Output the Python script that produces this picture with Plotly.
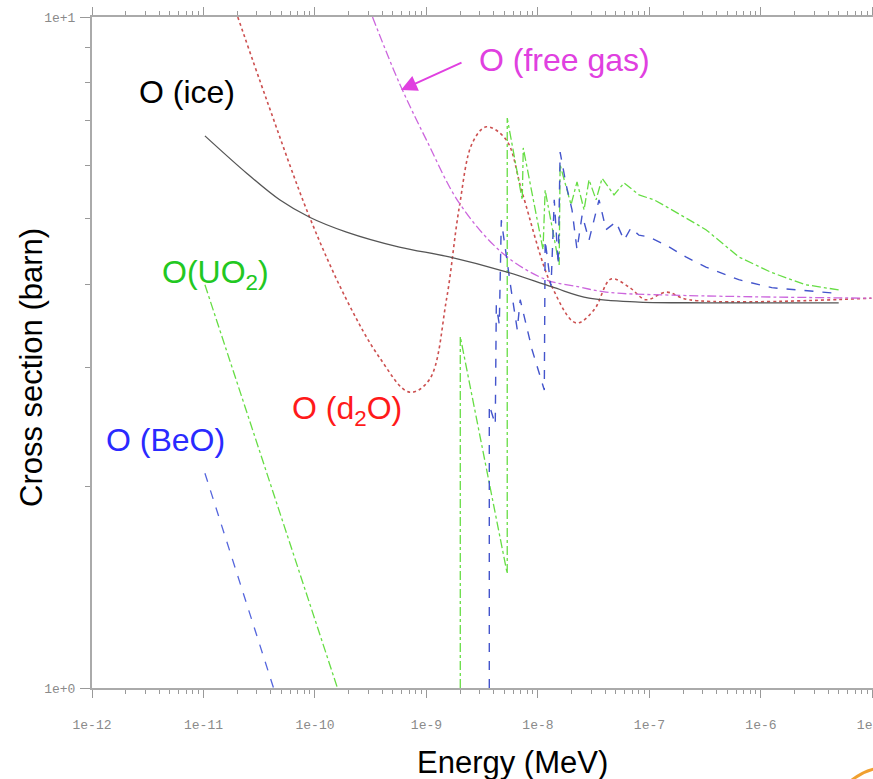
import plotly.graph_objects as go

# ---------------- data (energy in MeV, cross section in barn) ----------------
E_ice = [1.03e-11, 2.44e-11, 4.82e-11, 8.95e-11, 1.92e-10, 5.71e-10, 1.60e-9, 5.19e-9,
         1.34e-8, 2.87e-8, 8.05e-8, 3.21e-7, 4.98e-6]
S_ice = [6.65, 5.85, 5.34, 5.03, 4.78, 4.54, 4.39, 4.17, 3.96, 3.81, 3.76, 3.75, 3.75]

E_d2o = [2.03e-11, 3.69e-11, 8.95e-11, 1.92e-10, 3.78e-10, 7.03e-10, 1.06e-9, 1.51e-9,
         1.97e-9, 2.58e-9, 3.44e-9, 5.19e-9, 7.23e-9, 1.34e-8, 2.20e-8, 3.18e-8, 4.52e-8,
         6.54e-8, 9.31e-8, 1.41e-7, 2.26e-7, 9.8e-6]
S_d2o = [10.0, 7.52, 5.03, 3.79, 3.11, 2.76, 2.88, 3.79, 5.21, 6.49, 6.86, 6.56, 5.47,
         3.96, 3.50, 3.66, 4.07, 3.96, 3.79, 3.89, 3.79, 3.81]

E_gas = [3.28e-10, 5.71e-10, 9.98e-10, 1.97e-9, 4.79e-9, 1.18e-8, 2.34e-8, 4.08e-8,
         1.59e-7, 9.8e-6]
S_gas = [10.0, 7.97, 6.56, 5.28, 4.45, 4.06, 3.96, 3.89, 3.85, 3.81]

E_uo2_low = [1.03e-11, 1.59e-10]
S_uo2_low = [3.99, 1.0]
E_uo2 = [2.01e-9, 2.01e-9, 5.30e-9, 5.30e-9, 7.23e-9, 7.38e-9, 1.11e-8, 1.16e-8, 1.55e-8,
         1.58e-8, 1.98e-8, 2.24e-8, 2.59e-8, 2.87e-8, 3.32e-8, 3.76e-8, 4.81e-8, 5.92e-8,
         8.05e-8, 1.10e-7, 1.59e-7, 3.21e-7, 6.32e-7, 1.25e-6, 2.52e-6, 4.98e-6]
S_uo2 = [1.0, 3.34, 1.48, 7.07, 5.34, 6.38, 4.50, 5.52, 4.27, 6.02, 5.25, 5.68, 5.16,
         5.72, 5.34, 5.75, 5.43, 5.66, 5.43, 5.34, 5.16, 4.82, 4.39, 4.16, 3.99, 3.92]

E_beo_low = [1.03e-11, 4.25e-11]
S_beo_low = [2.09, 1.0]
E_beo = [3.66e-9, 3.66e-9, 4.14e-9, 4.23e-9, 4.50e-9, 4.69e-9, 5.75e-9, 6.52e-9, 6.93e-9,
         8.87e-9, 1.14e-8, 1.16e-8, 1.31e-8, 1.40e-8, 1.52e-8, 1.58e-8, 1.79e-8, 2.02e-8,
         2.24e-8, 2.49e-8, 2.87e-8, 3.53e-8, 4.08e-8, 5.01e-8, 5.92e-8, 6.82e-8, 8.05e-8,
         9.91e-8, 1.41e-7, 2.12e-7, 3.21e-7, 6.32e-7, 1.25e-6, 4.31e-6]
S_beo = [1.0, 2.64, 2.47, 3.72, 3.48, 4.98, 3.92, 3.42, 3.79, 3.19, 2.78, 4.65, 3.96,
         5.34, 4.27, 6.29, 5.62, 5.16, 4.50, 5.07, 4.65, 5.34, 4.82, 4.95, 4.65, 4.85,
         4.73, 4.70, 4.57, 4.39, 4.24, 4.06, 3.95, 3.88]

x_major = [1e-12, 1e-11, 1e-10, 1e-9, 1e-8, 1e-7, 1e-6, 1e-5]
x_labels = ["1e-12", "1e-11", "1e-10", "1e-9", "1e-8", "1e-7", "1e-6", "1e-5"]
y_major = [1, 10]
y_labels = ["1e+0", "1e+1"]

# ---------------- figure ----------------
fig = go.Figure()

def add(x, y, color, dash, width=1.4, shape="linear"):
    fig.add_trace(go.Scatter(x=x, y=y, mode="lines",
                             line=dict(color=color, dash=dash, width=width, shape=shape,
                                       smoothing=1.0 if shape == "spline" else None),
                             showlegend=False, hoverinfo="skip"))

add(E_d2o, S_d2o, "#cc5050", "dot", 1.6, "spline")
add(E_gas, S_gas, "#cc66dd", "dashdot", 1.3, "spline")
add(E_uo2_low, S_uo2_low, "#66dd44", "dashdot", 1.3)
add(E_uo2, S_uo2, "#66dd44", "dashdot", 1.3)
add(E_beo_low, S_beo_low, "#5566dd", "dash", 1.3)
add(E_beo, S_beo, "#4455cc", "dash", 1.4)
add(E_ice, S_ice, "#555555", "solid", 1.3, "spline")

x_minor = [m * 10.0 ** k for k in range(-12, -5) for m in range(2, 10)]
y_minor = [m for m in range(2, 10)]

tickfont = dict(family="Liberation Mono, DejaVu Sans Mono, monospace", size=13, color="#8a8a8a")

fig.update_xaxes(type="log", range=[-12, -4.995], tickmode="array", tickvals=x_major,
                 ticktext=x_labels, ticks="outside", ticklen=8, tickwidth=1,
                 tickcolor="#999999", showline=True, linecolor="#aaaaaa", linewidth=2,
                 mirror="ticks", showgrid=False, zeroline=False, tickfont=tickfont,
                 ticklabelstandoff=15, ticklabeloverflow="allow", automargin=False,
                 minor=dict(tickmode="array", tickvals=x_minor, ticks="outside",
                            ticklen=4, tickwidth=1, tickcolor="#999999", showgrid=False))
fig.update_yaxes(type="log", range=[0, 1], tickmode="array", tickvals=y_major,
                 ticktext=y_labels, ticks="outside", ticklen=10, tickwidth=1,
                 tickcolor="#999999", showline=True, linecolor="#aaaaaa", linewidth=2,
                 mirror=False, showgrid=False, zeroline=False, tickfont=tickfont,
                 ticklabelstandoff=2, ticklabeloverflow="allow", automargin=False,
                 minor=dict(tickmode="array", tickvals=y_minor, ticks="outside",
                            ticklen=5, tickwidth=1, tickcolor="#999999", showgrid=False))

L, T, B = 92, 17, 91
W, H = 873, 779
pw, ph = W - L, H - T - B

def px(xp):
    return (xp - L) / pw

def py(yp):
    return (H - B - yp) / ph

lab_font = "Liberation Sans, Arial, sans-serif"
labels = [
    ("O (ice)", 187, 92, "#000000"),
    ("O (free gas)", 564, 60, "#e040e0"),
    ("O(UO<sub>2</sub>)", 215, 274, "#22c822"),
    ("O (d<sub>2</sub>O)", 347, 410, "#ff1a1a"),
    ("O (BeO)", 165, 440, "#2a2aff"),
]
for text, xp, yp, col in labels:
    fig.add_annotation(text=text, xref="paper", yref="paper", x=px(xp), y=py(yp),
                       showarrow=False, xanchor="center", yanchor="middle",
                       font=dict(family=lab_font, size=32, color=col))

# arrow pointing to the free gas curve
fig.add_annotation(text="", xref="paper", yref="paper", x=px(401), y=py(90),
                   ax=62, ay=-28, axref="pixel", ayref="pixel",
                   showarrow=True, arrowhead=2, arrowsize=1.6, arrowwidth=2,
                   arrowcolor="#e040e0")

# axis titles
fig.add_annotation(text="Energy (MeV)", xref="paper", yref="paper", x=px(512), y=py(762),
                   showarrow=False, xanchor="center", yanchor="middle",
                   font=dict(family=lab_font, size=31, color="#000000"))
fig.add_annotation(text="Cross section (barn)", xref="paper", yref="paper", x=px(31), y=py(368),
                   showarrow=False, xanchor="center", yanchor="middle", textangle=-90,
                   font=dict(family=lab_font, size=31, color="#000000"))

# small orange decoration in the bottom-right corner
fig.add_shape(type="path", xref="paper", yref="paper",
              path=f"M {px(852)},{py(780)} Q {px(862)},{py(772)} {px(874)},{py(769)}",
              line=dict(color="#f0a030", width=3))

fig.update_layout(width=W, height=H, margin=dict(l=L, r=0, t=T, b=B, autoexpand=False),
                  paper_bgcolor="white", plot_bgcolor="white")

fig.write_html("out.html")
